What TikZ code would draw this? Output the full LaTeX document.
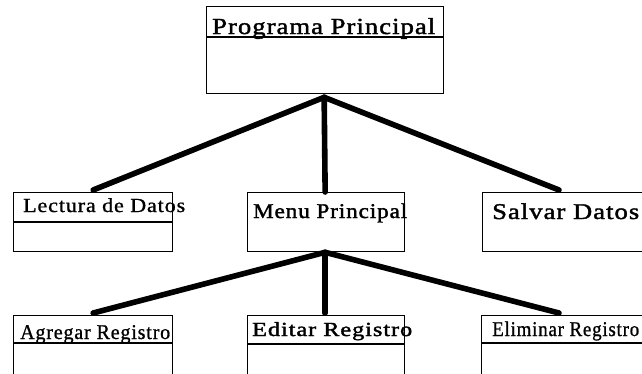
\documentclass[tikz,border=0pt]{standalone}
\usepackage{fontspec}
\usepackage{graphicx}
\setmainfont{Liberation Serif}
\newfontfamily\modfont[LetterSpace=4,FakeBold=0.9]{Liberation Serif}
\newfontfamily\modfontheavy[LetterSpace=4,FakeBold=1.6]{Liberation Serif}
\usetikzlibrary{calc}

% label text: font size #2, fitted horizontally to width #1
\newcommand{\modlabel}[3]{\resizebox{#1pt}{\height}{\fontsize{#2}{#2}\selectfont #3}}

\tikzset{
  box/.style={draw=black, line width=1.3pt, inner sep=0pt, anchor=north west},
  lbl/.style={inner sep=0pt, anchor=base west, text=black},
  divider/.style={draw=black, line width=1.2pt},
  link/.style={draw=black, line width=5.6pt, line cap=round, line join=round}
}

\begin{document}
\begin{tikzpicture}[x=1pt,y=-1pt]
  \useasboundingbox (0,0) rectangle (642,373);
  \fill[white] (0,0) rectangle (642,373);
  \clip (0,0) rectangle (642,373);

  % module boxes
  \node[box, minimum width=237pt, minimum height=87pt] (prog) at (206,6) {};
  \node[box, minimum width=159pt, minimum height=59pt] (lect) at (13,192) {};
  \node[box, minimum width=157pt, minimum height=59pt] (menu) at (247,192) {};
  \node[box, minimum width=180pt, minimum height=59pt] (salv) at (482,192) {};
  \node[box, minimum width=159pt, minimum height=80pt] (agre) at (13,315) {};
  \node[box, minimum width=157pt, minimum height=80pt] (edit) at (247,315) {};
  \node[box, minimum width=180pt, minimum height=80pt] (elim) at (481,315) {};

  % title dividers
  \draw[divider] (prog.west |- 0,37) -- (prog.east |- 0,37);
  \draw[divider] (lect.west |- 0,222) -- (lect.east |- 0,222);
  \draw[divider] (agre.west |- 0,343) -- (agre.east |- 0,343);
  \draw[divider] (edit.west |- 0,344) -- (edit.east |- 0,344);
  \draw[divider] (elim.west |- 0,343) -- (elim.east |- 0,343);

  % module names
  \node[lbl] (progT) at (212,34)  {\modlabel{223}{23}{\modfontheavy Programa Principal}};
  \node[lbl] (lectT) at (23,212)  {\modlabel{162}{20}{\modfont Lectura de Datos}};
  \node[lbl] (menuT) at (253,218) {\modlabel{154}{21}{\modfontheavy Menu Principal}};
  \node[lbl] (salvT) at (492,219) {\modlabel{147}{22.5}{\modfontheavy Salvar Datos}};
  \node[lbl] (agreT) at (20,339)  {\modlabel{150}{21}{\modfont Agregar Registro}};
  \node[lbl] (editT) at (252,336) {\modlabel{160}{20}{\modfontheavy Editar Registro}};
  \node[lbl] (elimT) at (492,336) {\modlabel{147}{21}{\modfont Eliminar Registro}};

  % connector end points on the child boxes
  \coordinate (salvIn) at ($(salv.north west)+(77,-2)$);
  \coordinate (elimIn) at ($(elim.north west)+(78,-2)$);
  \coordinate (progOut) at ($(prog.south)+(-1,3)$);
  \coordinate (menuOut) at ($(menu.south)+(-1,0)$);

  % hierarchy links
  \draw[link] (progOut) -- ($(lect.north)+(0,-2)$);
  \draw[link] (progOut) -- ($(menu.north)+(-1,0)$);
  \draw[link] (progOut) -- (salvIn);
  \draw[link] (menuOut) -- ($(agre.north)+(0,-2)$);
  \draw[link] (menuOut) -- ($(edit.north)+(-1,-2)$);
  \draw[link] (menuOut) -- (elimIn);
\end{tikzpicture}
\end{document}
